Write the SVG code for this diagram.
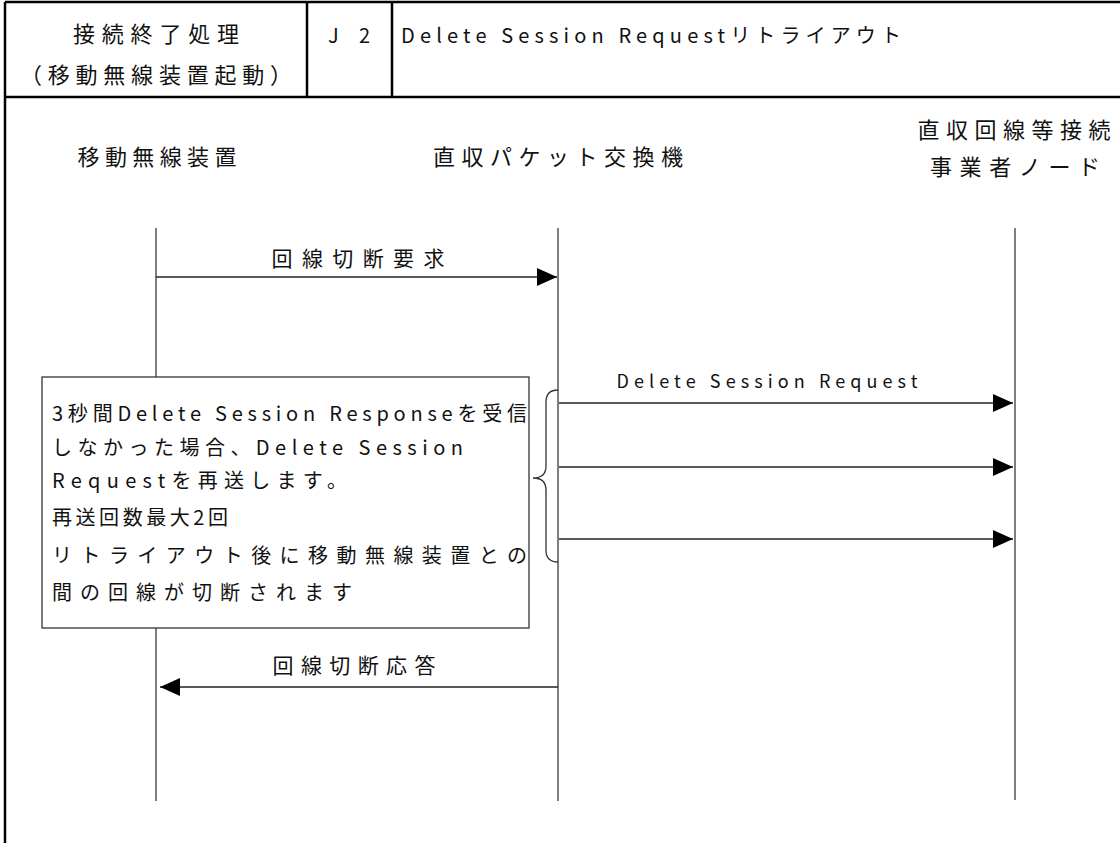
<svg xmlns="http://www.w3.org/2000/svg" width="1120" height="843" viewBox="0 0 1120 843">
<defs>
<style>
.t{font-family:"Noto Sans CJK JP","Noto Sans",sans-serif;fill:#111;}
.frame{stroke:#000;stroke-width:2.5;fill:none;}
.life{stroke:#555;stroke-width:1.5;fill:none;}
.msg{stroke:#222;stroke-width:1.5;fill:none;marker-end:url(#ah);}
</style>
<marker id="ah" viewBox="0 0 20 18" refX="20" refY="9" markerWidth="20" markerHeight="18" orient="auto" markerUnits="userSpaceOnUse"><path d="M0,0 L20,9 L0,18 z" fill="#000"/></marker>
</defs>
<rect width="1120" height="843" fill="#fff"/>
<g id="header">
<path class="frame" d="M5,2 H1120 M5,2 V843 M5,97 H1120 M307,2 V97 M392,2 V97"/>
<text class="t" x="156" y="42" font-size="22" text-anchor="middle" textLength="166" lengthAdjust="spacing">接続終了処理</text>
<text class="t" x="156" y="83" font-size="22" text-anchor="middle" textLength="272" lengthAdjust="spacing">（移動無線装置起動）</text>
<text class="t" x="328" y="43" font-size="20" textLength="42" lengthAdjust="spacing">J 2</text>
<text class="t" x="401" y="43" font-size="20" textLength="500" lengthAdjust="spacing">Delete Session Requestリトライアウト</text>
</g>
<g id="ms">
<text class="t" x="157" y="165" font-size="22" text-anchor="middle" textLength="159" lengthAdjust="spacing">移動無線装置</text>
<line class="life" x1="156" y1="228" x2="156" y2="801"/>
</g>
<g id="pgw">
<text class="t" x="558" y="165" font-size="22" text-anchor="middle" textLength="250" lengthAdjust="spacing">直収パケット交換機</text>
<line class="life" x1="558" y1="228" x2="558" y2="801"/>
</g>
<g id="node">
<text class="t" x="1014" y="138" font-size="22" text-anchor="middle" textLength="193" lengthAdjust="spacing">直収回線等接続</text>
<text class="t" x="1015" y="175" font-size="22" text-anchor="middle" textLength="170" lengthAdjust="spacing">事業者ノード</text>
<line class="life" x1="1015" y1="228" x2="1015" y2="800"/>
</g>
<g id="note">
<rect x="42" y="377" width="487" height="251" fill="#fff" stroke="#333" stroke-width="1.3"/>
<text class="t" x="52" y="421" font-size="20" textLength="475" lengthAdjust="spacing">3秒間Delete Session Responseを受信</text>
<text class="t" x="52" y="455" font-size="20" textLength="411" lengthAdjust="spacing">しなかった場合、Delete Session</text>
<text class="t" x="52" y="488" font-size="20" textLength="295" lengthAdjust="spacing">Requestを再送します。</text>
<text class="t" x="52" y="525" font-size="20" textLength="176" lengthAdjust="spacing">再送回数最大2回</text>
<text class="t" x="52" y="563" font-size="20" textLength="475" lengthAdjust="spacing">リトライアウト後に移動無線装置との</text>
<text class="t" x="52" y="600" font-size="20" textLength="300" lengthAdjust="spacing">間の回線が切断されます</text>
</g>
<g id="brace">
<path d="M558,390 Q546,390 546,402 L546,466 Q546,478 533,478 Q546,478 546,490 L546,550 Q546,562 558,562" fill="none" stroke="#333" stroke-width="1.3"/>
</g>
<g id="connectors">
<line class="msg" x1="156" y1="277" x2="557" y2="277"/>
<text class="t" x="358" y="266" font-size="21" text-anchor="middle" textLength="173" lengthAdjust="spacing">回線切断要求</text>
<line class="msg" x1="559" y1="403" x2="1013" y2="403"/>
<text class="t" x="767" y="388" font-size="18" text-anchor="middle" textLength="301" lengthAdjust="spacing">Delete Session Request</text>
<line class="msg" x1="559" y1="467" x2="1013" y2="467"/>
<line class="msg" x1="559" y1="539" x2="1013" y2="539"/>
<line class="msg" x1="558" y1="687" x2="160" y2="687"/>
<text class="t" x="354" y="673" font-size="21" text-anchor="middle" textLength="163" lengthAdjust="spacing">回線切断応答</text>
</g>
</svg>
